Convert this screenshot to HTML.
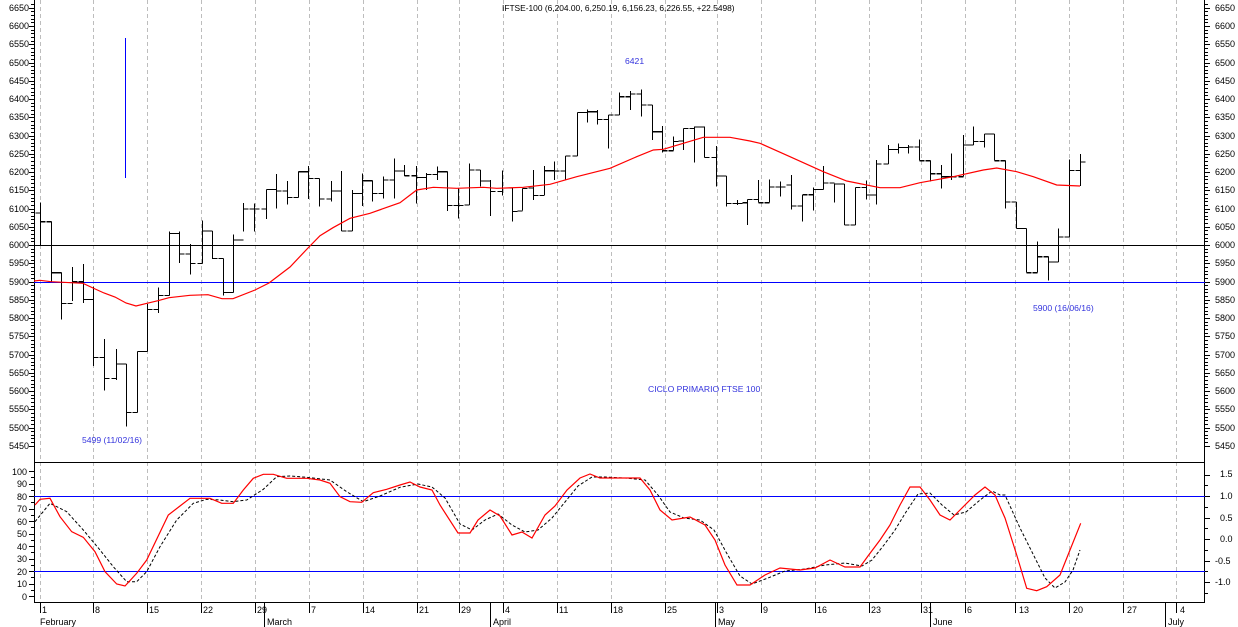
<!DOCTYPE html>
<html><head><meta charset="utf-8"><style>
html,body{margin:0;padding:0;background:#fff;width:1238px;height:627px;overflow:hidden}
svg{display:block;font-family:"Liberation Sans",sans-serif;font-size:9px}
</style></head><body>
<svg id="s" width="1238" height="627" viewBox="0 0 1238 627" xmlns="http://www.w3.org/2000/svg">
<g id="grid" stroke="#bdbdbd" stroke-dasharray="4,3" stroke-width="1"></g>
<g id="ax" stroke="#000" stroke-width="1" shape-rendering="crispEdges">
<line x1="34.5" y1="0" x2="34.5" y2="602"/>
<line x1="1204.5" y1="0" x2="1204.5" y2="602"/>
<line x1="34" y1="462.5" x2="1205" y2="462.5"/>
<line x1="34" y1="602.5" x2="1205" y2="602.5"/>
<line x1="34" y1="245.5" x2="1205" y2="245.5"/>
</g>
<g stroke="#0000ff" stroke-width="1" shape-rendering="crispEdges">
<line x1="34" y1="282.5" x2="1205" y2="282.5"/>
<line x1="34" y1="496.5" x2="1205" y2="496.5"/>
<line x1="34" y1="571.5" x2="1205" y2="571.5"/>
<line x1="125.5" y1="38" x2="125.5" y2="178"/>
</g>
<g id="ticks" stroke="#000" stroke-width="1" shape-rendering="crispEdges"></g>
<path id="bars" fill="none" stroke="#000" stroke-width="1.1" shape-rendering="crispEdges"/>
<polyline id="ma" fill="none" stroke="#ff0000" stroke-width="1.2"/>
<polyline id="kd" fill="none" stroke="#000" stroke-width="1" stroke-dasharray="3,2"/>
<polyline id="kk" fill="none" stroke="#ff0000" stroke-width="1.2"/>
<g fill="#000" text-anchor="end">
<text x="29" y="11">6650</text><text x="29" y="29">6600</text><text x="29" y="47">6550</text><text x="29" y="66">6500</text><text x="29" y="84">6450</text><text x="29" y="102">6400</text><text x="29" y="120">6350</text><text x="29" y="139">6300</text><text x="29" y="157">6250</text><text x="29" y="175">6200</text><text x="29" y="193">6150</text><text x="29" y="212">6100</text><text x="29" y="230">6050</text><text x="29" y="248">6000</text><text x="29" y="266">5950</text><text x="29" y="285">5900</text><text x="29" y="303">5850</text><text x="29" y="321">5800</text><text x="29" y="339">5750</text><text x="29" y="358">5700</text><text x="29" y="376">5650</text><text x="29" y="394">5600</text><text x="29" y="412">5550</text><text x="29" y="431">5500</text><text x="29" y="449">5450</text>
<text x="27" y="475">100</text><text x="27" y="487">90</text><text x="27" y="500">80</text><text x="27" y="512">70</text><text x="27" y="525">60</text><text x="27" y="537">50</text><text x="27" y="550">40</text><text x="27" y="562">30</text><text x="27" y="575">20</text><text x="27" y="587">10</text><text x="27" y="600">0</text>
</g>
<g fill="#000" text-anchor="start">
<text x="1215" y="11">6650</text><text x="1215" y="29">6600</text><text x="1215" y="47">6550</text><text x="1215" y="66">6500</text><text x="1215" y="84">6450</text><text x="1215" y="102">6400</text><text x="1215" y="120">6350</text><text x="1215" y="139">6300</text><text x="1215" y="157">6250</text><text x="1215" y="175">6200</text><text x="1215" y="193">6150</text><text x="1215" y="212">6100</text><text x="1215" y="230">6050</text><text x="1215" y="248">6000</text><text x="1215" y="266">5950</text><text x="1215" y="285">5900</text><text x="1215" y="303">5850</text><text x="1215" y="321">5800</text><text x="1215" y="339">5750</text><text x="1215" y="358">5700</text><text x="1215" y="376">5650</text><text x="1215" y="394">5600</text><text x="1215" y="412">5550</text><text x="1215" y="431">5500</text><text x="1215" y="449">5450</text>
<text x="1220" y="477">1.5</text><text x="1220" y="499">1.0</text><text x="1220" y="521">0.5</text><text x="1220" y="542">0.0</text><text x="1215" y="564">-0.5</text><text x="1215" y="585">-1.0</text>
</g>
<g fill="#000">
<text x="42" y="613">1</text><text x="95" y="613">8</text><text x="149" y="613">15</text><text x="203" y="613">22</text><text x="257" y="613">29</text><text x="311" y="613">7</text><text x="365" y="613">14</text><text x="419" y="613">21</text><text x="461" y="613">29</text><text x="505" y="613">4</text><text x="559" y="613">11</text><text x="613" y="613">18</text><text x="667" y="613">25</text><text x="719" y="613">3</text><text x="763" y="613">9</text><text x="817" y="613">16</text><text x="871" y="613">23</text><text x="923" y="613">31</text><text x="967" y="613">6</text><text x="1019" y="613">13</text><text x="1073" y="613">20</text><text x="1127" y="613">27</text><text x="1180" y="613">4</text>
<text x="40" y="625">February</text><text x="267" y="625">March</text><text x="493" y="625">April</text><text x="718" y="625">May</text><text x="933" y="625">June</text><text x="1168" y="625">July</text>
<text x="502" y="11" font-size="8.4">IFTSE-100 (6,204.00, 6,250.19, 6,156.23, 6,226.55, +22.5498)</text>
</g>
<g fill="#3333dd" font-size="8.6">
<text x="625" y="64">6421</text>
<text x="1033" y="311">5900 (16/06/16)</text>
<text x="82" y="443">5499 (11/02/16)</text>
<text x="648" y="392">CICLO PRIMARIO FTSE 100</text>
</g>
</svg>
<script>
var NS="http://www.w3.org/2000/svg";
function el(p,t,a){var e=document.createElementNS(NS,t);for(var k in a)e.setAttribute(k,a[k]);p.appendChild(e);return e;}
var gx=[40,93,147,201,255,309,363,417,459,503,557,611,665,717,761,815,869,921,965,1015,1069,1123,1176];
var g=document.getElementById('grid');
gx.forEach(function(x){el(g,'line',{x1:x+.5,y1:0,x2:x+.5,y2:602});});
var t=document.getElementById('ticks');
gx.forEach(function(x){el(t,'line',{x1:x+.5,y1:602,x2:x+.5,y2:613});});
[264,490,715,930,1165].forEach(function(x){el(t,'line',{x1:x+.5,y1:602,x2:x+.5,y2:627});});
for(var p=5450;p<=6660;p+=10){var y=Math.round(245-(p-6000)*0.365)+.5;var L=(p%50==0)?5:3;
 el(t,'line',{x1:34-L,y1:y,x2:34,y2:y});el(t,'line',{x1:1205,y1:y,x2:1205+L,y2:y});}
for(var v=0;v<=100;v+=5){var y=Math.round(596-1.25*v)+.5;var L=(v%10==0)?5:3;el(t,'line',{x1:34-L,y1:y,x2:34,y2:y});}
for(var v=-1.25;v<=1.6;v+=0.25){var y=Math.round(539-v*43)+.5;var L=(Math.abs(v*2-Math.round(v*2))<1e-6)?5:3;el(t,'line',{x1:1205,y1:y,x2:1205+L,y2:y});}
var B=[[40,202.7,246,213,221.7],[50.7,221.7,281.7,221.7,272.7],[61.3,272.7,319.3,272.7,303.3],[72.3,267,301,303.3,281.7],[83.3,264,303,281.7,299.3],[93.3,286.7,366,299.3,357.3],[104,339,390.7,357.3,378.3],[115.7,349,380,378.3,364],[125.7,364,426.7,364,412.3],[136.7,351.3,412.3,412.3,351.3],[147.3,304,351.3,351.3,309.3],[158.3,287.3,313,309.3,295.3],[169.3,231.3,295.3,295.3,233.3],[179,231.3,263,233.3,254],[190,244,274.7,254,263.3],[201.7,220.3,263.3,263.3,231],[211.7,231,259,231,258.3],[222.7,258.3,295.3,258.3,292.3],[233.3,234.3,292.3,292.3,240],[243.3,203,231.3,240,209],[254.3,203.3,231.7,209,209],[265.7,189.3,219,209,189.3],[275.7,174,208.3,189.3,191],[286.7,181,204.3,191,197.3],[297.7,171.7,197.3,197.3,171.7],[308.3,166,199,171.7,178.3],[319.3,178.3,206.7,178.3,199],[330.7,181,201.7,199,191],[341,171,231,191,231],[351.7,190,231,231,193.3],
[362.3,173.3,206,193.3,180.7],[372.3,180.7,201.7,180.7,193.3],[383.3,176.7,198.3,193.3,180],[394.3,158.3,198.3,180,171],[404.3,165,176,171,175.7],[415.7,166,203.3,175.7,177.3],[426,173,190,177.3,174.3],[436.7,166.7,180,174.3,171.7],[447.3,171.7,211,171.7,205.3],[458.3,188.3,218.3,205.3,205.3],[469.3,163.3,205,205,170],[480,170,186.7,170,181],[490,180,216,181,191.3],[501.7,170.7,195.7,191.3,188],[512.3,188,221.7,188,211.3],[522.3,188.3,210.7,211,188.3],[533.3,170,200,188,195.3],[544.3,166,195,195.3,170.7],[554.3,161.7,180,170.7,171],[565,156,180,171,156],[576.7,112.3,156,156,112.3],[586.7,109.3,122.7,112.3,111.7],[597.3,110,124.3,111.7,119.3],[608.3,115,148.3,119.3,115],[619.3,92.7,115,115,96.7],[630,91,110,96.7,94],[641,89.3,116.7,94,105],[651.7,105,140,105,131.7],[662.3,126,152.7,131.7,150.7],[672.7,136.7,150.7,150.7,141.3],[683.3,128.3,150,141,128.3],[694,126.7,162.7,128.3,127],[704,126.7,157.3,127,157.3],[715.7,146,186.7,157.3,176],[726,176,206.7,176,203.3],[736.7,200,205,203.3,203.3],
[747.3,199.3,225,202.7,199.3],[758.3,180,202.7,199.3,202.7],[769.3,179.3,202.7,202.7,187],[780,181.7,196.7,187,187],[791,175,209.3,185,206],[801.7,195,221.7,206,194.7],[812.7,187.3,210.7,194.7,189.3],[823.3,166,189.3,189.3,183],[834,183.3,202.7,183,184],[844.3,184,225,184,225],[855,187.3,225,225,187.3],[865.7,180.7,199.3,187.3,195],[876,160,204.7,195,164],[887.7,145,164,164,149.3],[897.7,143.3,153.3,149.3,147.3],[908.3,145,153.3,147.3,147],[919.3,139.3,160.7,147,160.7],[930,160.7,181.7,160.7,173.7],[941,165,188.7,173.7,176.7],[951,153.3,180,176.7,176.7],[962.7,135,176.7,176.7,145],[973.3,126.7,145,145,141.3],[984,134,147.3,141.3,134],[994.3,134,160.7,134,160.7],[1005,160.7,208.3,160.7,202],[1015.7,202,228.3,202,228.3],[1026,228.3,272.7,228.3,272.7],[1036.7,241.7,272.7,272.7,256.7],[1047.7,256.7,280.7,256.7,262],[1058.3,228.3,262,262,237],[1069,159.3,237.3,237,170.3],[1080,154,186,170.3,162]];
var d='';B.forEach(function(b){var x=Math.round(b[0])+.5;d+='M'+x+' '+b[1]+'V'+b[2]+'M'+(x-5)+' '+b[3]+'H'+x+'M'+x+' '+b[4]+'H'+(x+5);});
document.getElementById('bars').setAttribute('d',d);
document.getElementById('ma').setAttribute('points',"34,281 40,280.3 51,281.7 83,283.3 93,288 104,293 115,297 126,303 136,306 147,303.3 158,300.7 169,297.7 190,295.3 208,294.7 222,298.7 233,298.7 255,290 269,283 290,267 308,248 320,235.7 333,227.7 350,218.3 370,213.3 400,202.7 416.7,190 433.3,187.3 456.7,188.3 483.3,187.3 496.7,188.3 523.3,187.3 550,184.3 576.7,176.7 610,168.3 636.7,156.7 653.3,150 663.3,149.3 683.3,143.3 703.3,137.3 730,137.3 750,141 760,143.3 790,156.7 823.3,171.7 846.7,181 880,187.7 900,187.7 920,182.7 953.3,176.7 983.3,170 996.7,168 1016.7,171.7 1033.3,176.7 1056.7,185 1080,186");
document.getElementById('kk').setAttribute('points',"35,505 40,499.3 50,498.3 60,516.7 71.7,531.7 83.3,537.3 95,551.7 105,571.7 116.7,584 125,586 136.7,573.3 146.7,560 168.3,515 180,506 190,498.3 210,498.3 221.7,503.3 233.3,503.3 243.3,490 253.3,478.3 263.3,474.3 273.3,474.3 286.7,478.3 306.7,478.3 320,480 330,483.3 340,496.7 350,501.7 361.7,502.3 373.3,492.7 386.7,489.3 400,485 410,482 420,487 432,490 440,505 458,533 470,533 478,520 490,510 500,516 512,535 522,532 532,538 545,515 555,506 567,490 580,478 590,474 600,478 625,478 640,478 650,490 660,510 672,520 690,517 705,525 715,540 725,565 737,585 750,585 765,575 780,568 800,570 815,568 830,560 845,567 860,567 868,556 880,540 890,525 900,505 910,487 920,487 930,500 940,515 950,520 960,510 975,495 985,487 995,495 1000,506.7 1005,518 1016.7,555 1026.7,588.3 1036.7,590.7 1046.7,586.7 1060,575 1070,550 1080.7,523.3");
document.getElementById('kd').setAttribute('points',"35,521.7 50,503.3 66.7,511.7 83.3,530 100,550 113.3,566.7 126.7,581.7 136.7,581.7 146.7,571.7 160,546.7 176.7,520 193.3,503.3 206.7,499.3 220,500 233.3,501.7 246.7,500 263.3,489.3 276.7,476.7 290,476 306.7,477.3 330,480 346.7,491.7 363.3,501.7 380,496 400,487.3 418,484 432,487 445,498 460,524 472,530 485,520 498,514 512,525 525,532 538,530 552,518 565,502 578,486 592,477 605,477 625,478 645,480 658,495 670,512 684,518 700,520 714,530 726,552 740,576 752,584 768,578 785,571 805,569 825,565 845,563 862,566 872,560 884,545 895,530 906,512 918,494 930,493 942,505 954,515 966,512 980,500 992,491 1000,495 1005,495 1020,528 1030,548 1045,578 1055,588 1065,582 1073,570 1080,550");
</script>
</body></html>
